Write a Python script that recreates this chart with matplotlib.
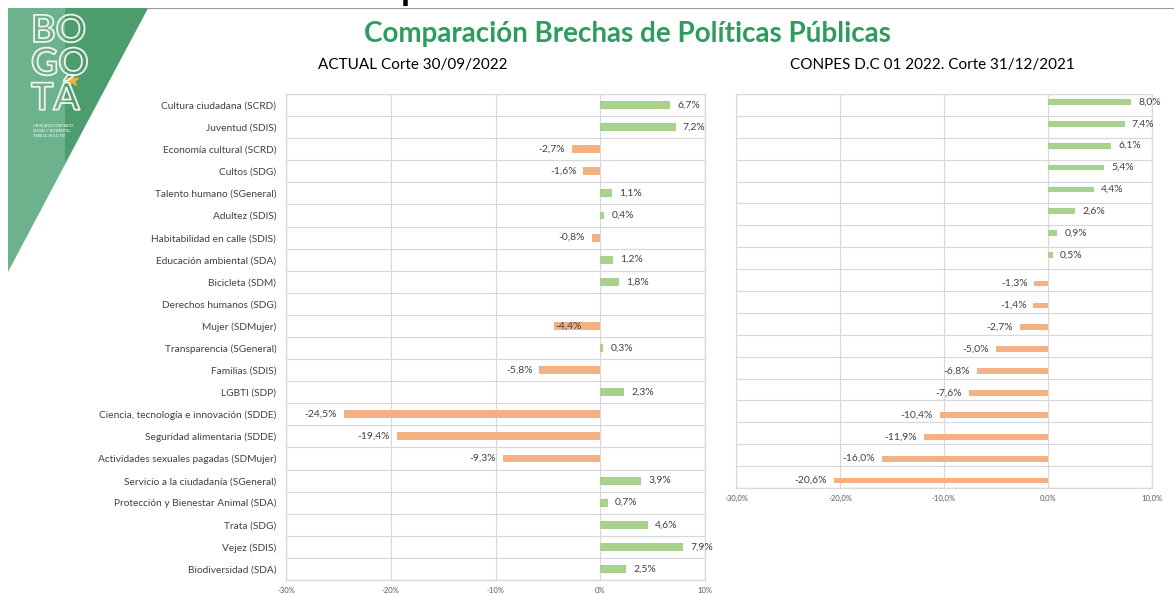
import matplotlib
matplotlib.use("Agg")
import matplotlib.pyplot as plt
import matplotlib.patheffects as pe
from matplotlib.patches import Polygon
from matplotlib.lines import Line2D

plt.rcParams["font.family"] = ["Lato", "DejaVu Sans"]

# ---- data ----
actual_labels = [
    "Cultura ciudadana (SCRD)",
    "Juventud (SDIS)",
    "Economía cultural (SCRD)",
    "Cultos (SDG)",
    "Talento humano (SGeneral)",
    "Adultez (SDIS)",
    "Habitabilidad en calle (SDIS)",
    "Educación ambiental (SDA)",
    "Bicicleta (SDM)",
    "Derechos humanos (SDG)",
    "Mujer (SDMujer)",
    "Transparencia (SGeneral)",
    "Familias (SDIS)",
    "LGBTI (SDP)",
    "Ciencia, tecnología e innovación (SDDE)",
    "Seguridad alimentaria (SDDE)",
    "Actividades sexuales pagadas (SDMujer)",
    "Servicio a la ciudadanía (SGeneral)",
    "Protección y Bienestar Animal (SDA)",
    "Trata (SDG)",
    "Vejez (SDIS)",
    "Biodiversidad (SDA)",
]
actual_values = [6.7, 7.2, -2.7, -1.6, 1.1, 0.4, -0.8, 1.2, 1.8, None, -4.4,
                 0.3, -5.8, 2.3, -24.5, -19.4, -9.3, 3.9, 0.7, 4.6, 7.9, 2.5]

conpes_values = [8.0, 7.4, 6.1, 5.4, 4.4, 2.6, 0.9, 0.5, -1.3, -1.4, -2.7,
                 -5.0, -6.8, -7.6, -10.4, -11.9, -16.0, -20.6]

x_ticks = [-30, -20, -10, 0, 10]

# labels that sit inside their bar in the reference
inside_labels = {"Mujer (SDMujer)"}

GREEN = "#a9d18e"
ORANGE = "#f4b183"
GRID = "#d9d9d9"
TXT = "#404040"
TICK = "#595959"

W, H = 1174, 594
fig = plt.figure(figsize=(W / 100, H / 100), dpi=100)


def rect(x0, y0, x1, y1):
    # pixel box -> figure fraction [left, bottom, width, height]
    return [x0 / W, 1 - y1 / H, (x1 - x0) / W, (y1 - y0) / H]


def pt(x, y):
    return (x / W, 1 - y / H)


def fmt(v, dec):
    return (f"{v:.{dec}f}%").replace(".", ",")


def style_axes(ax, n):
    ax.set_xlim(-30, 10)
    ax.set_ylim(n - 0.5, -0.5)
    ax.set_xticks(x_ticks)
    ax.set_yticks([i + 0.5 for i in range(-1, n)], minor=True)
    ax.grid(axis="x", which="major", color=GRID, lw=0.9)
    ax.grid(axis="y", which="minor", color=GRID, lw=0.9)
    ax.set_axisbelow(True)
    for s in ax.spines.values():
        s.set_color(GRID)
        s.set_linewidth(0.9)
    ax.tick_params(axis="both", which="both", length=0)
    ax.tick_params(axis="x", labelsize=5.5, labelcolor=TICK, pad=5)


# ---- left chart ----
ax1 = fig.add_axes(rect(286, 94, 705, 580))
n1 = len(actual_labels)
for i, (lab, v) in enumerate(zip(actual_labels, actual_values)):
    if v is None:
        continue
    ax1.barh(i, v, height=0.36, color=GREEN if v >= 0 else ORANGE, zorder=2)
    if lab in inside_labels:
        ax1.annotate(fmt(v, 1), (v, i), xytext=(1, 0), textcoords="offset points",
                     ha="left", va="center", fontsize=7.5, color=TXT, zorder=3)
    elif v >= 0:
        ax1.annotate(fmt(v, 1), (v, i), xytext=(5, 0), textcoords="offset points",
                     ha="left", va="center", fontsize=7.5, color=TXT)
    else:
        ax1.annotate(fmt(v, 1), (v, i), xytext=(-5, 0), textcoords="offset points",
                     ha="right", va="center", fontsize=7.5, color=TXT)
style_axes(ax1, n1)
ax1.set_yticks(range(n1))
ax1.set_yticklabels(actual_labels)
ax1.tick_params(axis="y", labelsize=7.3, labelcolor=TXT, pad=7)
ax1.set_xticklabels([f"{t}%" for t in x_ticks])

# ---- right chart ----
ax2 = fig.add_axes(rect(736, 94, 1152, 488))
n2 = len(conpes_values)
for i, v in enumerate(conpes_values):
    pos = v >= 0
    y = i - 0.14 if pos else i + 0.16
    ax2.barh(y, v, height=0.26, color=GREEN if pos else ORANGE, zorder=2)
    ax2.annotate(fmt(v, 1), (v, y), xytext=(5 if pos else -5, 0),
                 textcoords="offset points", ha="left" if pos else "right",
                 va="center", fontsize=7.5, color=TXT)
style_axes(ax2, n2)
ax2.set_yticks([])
ax2.set_xticklabels([fmt(t, 1) for t in x_ticks])

# ---- titles ----
fig.text(*pt(627, 34), "Comparación Brechas de Políticas Públicas", ha="center",
         va="center", fontsize=20, fontweight="bold", color="#2e9b5f")
fig.text(*pt(318, 65), "ACTUAL Corte 30/09/2022", ha="left", va="center",
         fontsize=11, color="black")
fig.text(*pt(790, 65), "CONPES D.C 01 2022. Corte 31/12/2021", ha="left",
         va="center", fontsize=11, color="black")

# ---- slide decoration (logo + top rule) ----
fig.add_artist(Line2D([148 / W, 1], [1 - 8 / H] * 2, color="#9a9a9a", lw=0.8))
fig.text(*pt(401, 0), "p", ha="left", va="baseline", fontsize=26,
         fontweight="bold", color="black")
fig.add_artist(Polygon([pt(8, 8), pt(148, 8), pt(8, 272)], closed=True,
                       facecolor="#6cb28c", edgecolor="none"))
fig.add_artist(Polygon([pt(65, 8), pt(148, 8), pt(65, 163)], closed=True,
                       facecolor="#4c9c6e", edgecolor="none"))
outline = [pe.withStroke(linewidth=1.3, foreground="#f2f2f2")]
for txt, y in [("BO", 31), ("GO", 64), ("TÁ", 98)]:
    fig.text(*pt(31, y), txt, ha="left", va="center", fontsize=27,
             fontweight="bold", color="none", path_effects=outline)
fig.add_artist(Line2D([72 / W], [1 - 80 / H], marker="*", ms=9,
                      color="#f0b43c", lw=0))
fig.text(*pt(33, 131), "UN NUEVO CONTRATO\nSOCIAL Y AMBIENTAL\nPARA EL SIGLO XXI",
         ha="left", va="center", fontsize=2.6, color="white", linespacing=1.2)

fig.savefig("out.png", dpi=100)
